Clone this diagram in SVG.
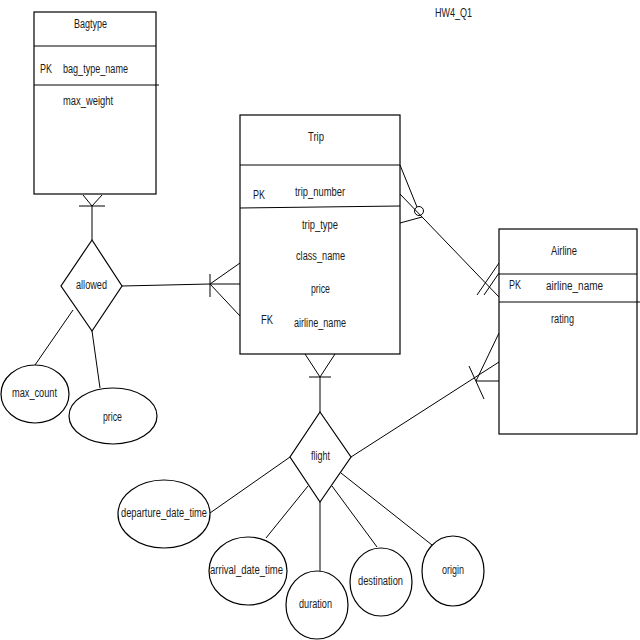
<svg xmlns="http://www.w3.org/2000/svg" width="640" height="640" viewBox="0 0 640 640">
<style>
.s{fill:none;stroke:#000;stroke-width:1}
.b{fill:#fff;stroke:#000;stroke-width:1.2}
text{font-family:"Liberation Sans",Arial,sans-serif;font-size:12px;fill:#1a1a1a}
</style>
<rect width="640" height="640" fill="#fff"/>
<text x="435" y="17" textLength="37" lengthAdjust="spacingAndGlyphs">HW4_Q1</text>
<g id="connectors" class="s">
<!-- Bagtype - allowed -->
<line x1="92" y1="206" x2="92" y2="240"/>
<polyline points="83,195 92,206 102,195"/>
<line x1="79" y1="206" x2="105" y2="206"/>
<!-- allowed - Trip -->
<line x1="122" y1="286" x2="210" y2="284"/>
<line x1="210" y1="284" x2="240" y2="284"/>
<polyline points="240,263 210,284 240,316"/>
<line x1="210" y1="274" x2="210" y2="297"/>
<!-- allowed attributes -->
<line x1="73" y1="310" x2="35" y2="365"/>
<line x1="92" y1="331" x2="100" y2="388"/>
<!-- Trip - Airline -->
<line x1="400" y1="165" x2="417" y2="207"/>
<line x1="400" y1="194" x2="499" y2="297"/>
<line x1="400" y1="223" x2="422" y2="217"/>
<circle cx="419" cy="211" r="4.5"/>
<line x1="477" y1="295" x2="499" y2="263"/>
<line x1="484" y1="295" x2="499" y2="273"/>
<!-- Trip - flight -->
<line x1="320" y1="377" x2="320" y2="412"/>
<polyline points="305,354 320,377 335,354"/>
<line x1="309" y1="377" x2="331" y2="377"/>
<!-- flight - Airline -->
<line x1="351" y1="457" x2="499" y2="362"/>
<line x1="476" y1="381" x2="499" y2="333"/>
<line x1="476" y1="381" x2="499" y2="381"/>
<line x1="469" y1="366" x2="484" y2="399"/>
<!-- flight attributes -->
<line x1="290" y1="457" x2="210" y2="513"/>
<line x1="308" y1="486" x2="266" y2="538"/>
<line x1="320" y1="502" x2="320" y2="571"/>
<line x1="332" y1="486" x2="377" y2="547"/>
<line x1="341" y1="473" x2="432" y2="545"/>
</g>
<g id="bagtype">
<rect class="b" x="34" y="12" width="122" height="182"/>
<line class="s" x1="34" y1="46" x2="156" y2="46"/>
<line class="s" x1="34" y1="85" x2="159" y2="85"/>
<text x="74" y="28" textLength="33" lengthAdjust="spacingAndGlyphs">Bagtype</text>
<text x="40" y="73" textLength="12" lengthAdjust="spacingAndGlyphs">PK</text>
<text x="63" y="73" textLength="65" lengthAdjust="spacingAndGlyphs">bag_type_name</text>
<text x="63" y="105" textLength="50" lengthAdjust="spacingAndGlyphs">max_weight</text>
</g>
<g id="trip">
<rect class="b" x="240" y="115" width="160" height="239"/>
<line class="s" x1="240" y1="165" x2="400" y2="165"/>
<line class="s" x1="240" y1="208" x2="400" y2="206"/>
<text x="308" y="141" textLength="16" lengthAdjust="spacingAndGlyphs">Trip</text>
<text x="253" y="199" textLength="12" lengthAdjust="spacingAndGlyphs">PK</text>
<text x="295" y="196" textLength="50" lengthAdjust="spacingAndGlyphs">trip_number</text>
<text x="302" y="229" textLength="36" lengthAdjust="spacingAndGlyphs">trip_type</text>
<text x="296" y="260" textLength="49" lengthAdjust="spacingAndGlyphs">class_name</text>
<text x="311" y="293" textLength="19" lengthAdjust="spacingAndGlyphs">price</text>
<text x="261" y="324" textLength="12" lengthAdjust="spacingAndGlyphs">FK</text>
<text x="294" y="327" textLength="52" lengthAdjust="spacingAndGlyphs">airline_name</text>
</g>
<g id="airline">
<rect class="b" x="499" y="229" width="138" height="205"/>
<line class="s" x1="499" y1="274" x2="637" y2="274"/>
<line class="s" x1="499" y1="302" x2="640" y2="302"/>
<text x="551" y="255" textLength="26" lengthAdjust="spacingAndGlyphs">Airline</text>
<text x="509" y="289" textLength="12" lengthAdjust="spacingAndGlyphs">PK</text>
<text x="546" y="290" textLength="57" lengthAdjust="spacingAndGlyphs">airline_name</text>
<text x="551" y="323" textLength="23" lengthAdjust="spacingAndGlyphs">rating</text>
</g>
<g id="allowed">
<polygon class="b" points="92,240 122,286 92,331 61,286"/>
<text x="76" y="289" textLength="31" lengthAdjust="spacingAndGlyphs">allowed</text>
</g>
<g id="max_count">
<ellipse class="b" cx="35" cy="394" rx="34" ry="29"/>
<text x="12" y="397" textLength="45" lengthAdjust="spacingAndGlyphs">max_count</text>
</g>
<g id="allowed_price">
<ellipse class="b" cx="113" cy="416" rx="44" ry="28"/>
<text x="103" y="421" textLength="19" lengthAdjust="spacingAndGlyphs">price</text>
</g>
<g id="flight">
<polygon class="b" points="320,412 351,457 320,502 290,457"/>
<text x="311" y="460" textLength="19" lengthAdjust="spacingAndGlyphs">flight</text>
</g>
<g id="departure_date_time">
<ellipse class="b" cx="164" cy="514" rx="46" ry="34"/>
<text x="121" y="517" textLength="86" lengthAdjust="spacingAndGlyphs">departure_date_time</text>
</g>
<g id="arrival_date_time">
<ellipse class="b" cx="248" cy="571" rx="39" ry="34"/>
<text x="210" y="574" textLength="73" lengthAdjust="spacingAndGlyphs">arrival_date_time</text>
</g>
<g id="duration">
<ellipse class="b" cx="317" cy="605" rx="31" ry="34"/>
<text x="299" y="608" textLength="33" lengthAdjust="spacingAndGlyphs">duration</text>
</g>
<g id="destination">
<ellipse class="b" cx="381" cy="582" rx="31" ry="34"/>
<text x="358" y="585" textLength="45" lengthAdjust="spacingAndGlyphs">destination</text>
</g>
<g id="origin">
<ellipse class="b" cx="453" cy="571" rx="31" ry="35"/>
<text x="442" y="574" textLength="22" lengthAdjust="spacingAndGlyphs">origin</text>
</g>
</svg>
